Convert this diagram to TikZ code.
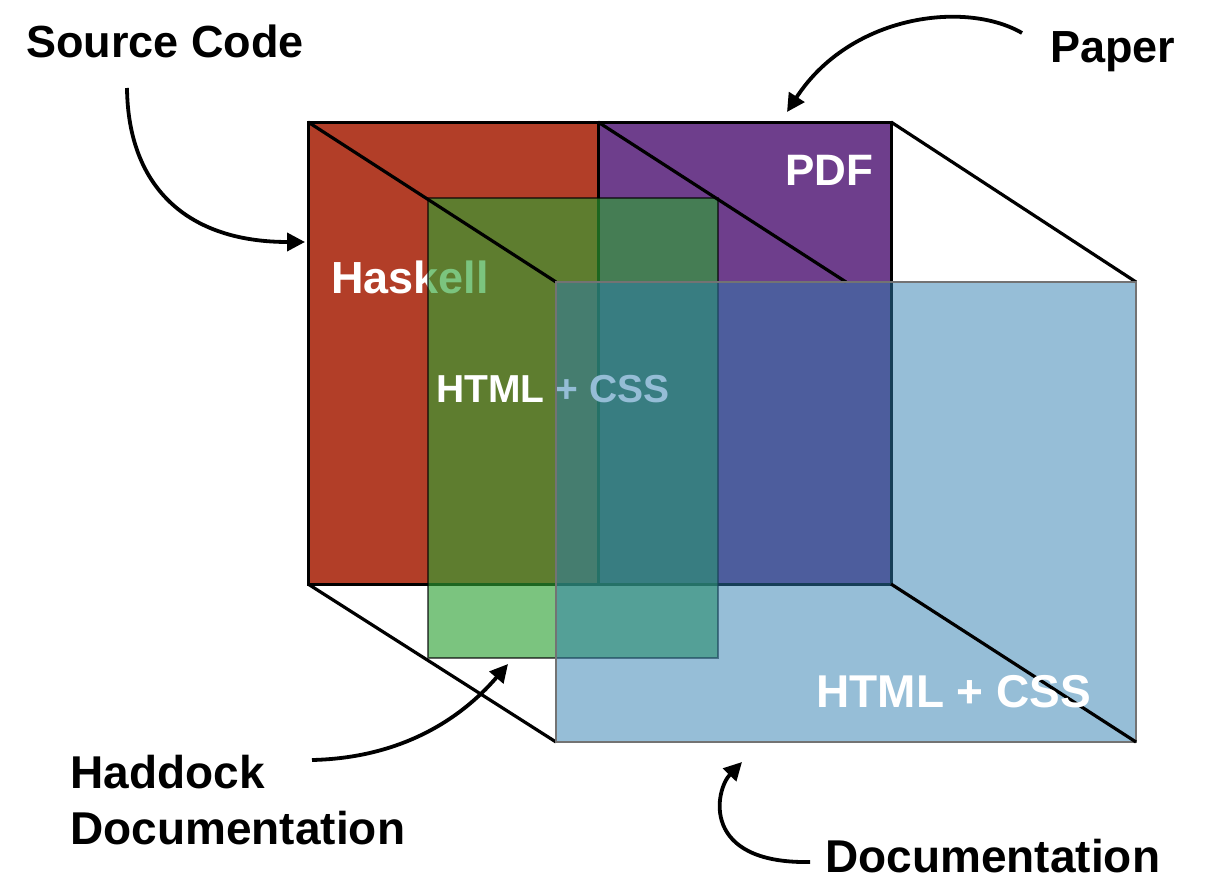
\documentclass[tikz,border=0pt]{standalone}
\usepackage{fontspec}
\setmainfont{Liberation Sans}
\usetikzlibrary{arrows.meta}
\definecolor{redc}{RGB}{178,62,40}
\definecolor{purc}{RGB}{110,62,140}
\definecolor{grnc}{RGB}{46,162,52}
\definecolor{bluc}{RGB}{45,125,175}
\begin{document}
\begin{tikzpicture}[x=0.5pt,y=-0.5pt,
  backface/.style={draw=black,line width=1.5pt},
  cubeedge/.style={draw=black,line width=1.6pt},
  callout/.style={line width=1.9pt,-{Triangle[length=9pt,width=9pt]}},
  lbl/.style={font=\fontsize{22.5}{28}\selectfont\bfseries,inner sep=0pt,anchor=base west},
  inlbl/.style={lbl,text=white}]
\useasboundingbox (0,0) rectangle (1213,883);
% cube corners
\coordinate (BTL) at (308,122);
\coordinate (BTM) at (598,122);
\coordinate (BTR) at (891,122);
\coordinate (BBL) at (308,584);
\coordinate (BBM) at (598,584);
\coordinate (BBR) at (891,584);
\coordinate (FTL) at (556,282);
\coordinate (FTM) at (846,282);
\coordinate (FTR) at (1136,282);
\coordinate (FBL) at (556,742);
\coordinate (FBR) at (1136,742);
\coordinate (GTL) at (428,198);
\coordinate (GBR) at (718,658);
% back faces
\fill[redc] (BTL) rectangle (BBM);
\fill[purc] (BTM) rectangle (BBR);
\draw[backface] (BTL) rectangle (BBM);
\draw[backface] (BTM) rectangle (BBR);
\node[inlbl] (haskell) at (331,293) {Haskell};
\node[inlbl,font=\fontsize{22}{26}\selectfont\bfseries] (pdf) at (785,185) {PDF};
% middle plane
\filldraw[fill=grnc,fill opacity=0.63,draw=black,draw opacity=0.6,line width=1.2pt] (GTL) rectangle (GBR);
\node[inlbl,font=\fontsize{19.5}{24}\selectfont\bfseries] (midhtml) at (436,402) {HTML + CSS};
% depth edges
\draw[cubeedge] (BTL) -- (FTL);
\draw[cubeedge] (BTM) -- (FTM);
\draw[cubeedge] (BTR) -- (FTR);
\draw[cubeedge] (BBL) -- (FBL);
% front plane
\filldraw[fill=bluc,fill opacity=0.5,draw=black!55,line width=1.4pt] (FTL) rectangle (FBR);
\draw[cubeedge] (BBR) -- (FBR);
\node[inlbl,font=\fontsize{23}{28}\selectfont\bfseries] (fronthtml) at (816,707) {HTML + CSS};
% labels
\node[lbl] (src) at (26,58) {Source Code};
\node[lbl] (paper) at (1050,62) {Paper};
\node[lbl,font=\fontsize{23}{28}\selectfont\bfseries] (had1) at (70,788) {Haddock};
\node[lbl,font=\fontsize{23}{28}\selectfont\bfseries] (had2) at (70,844) {Documentation};
\node[lbl,font=\fontsize{23}{28}\selectfont\bfseries] (doc) at (825,872) {Documentation};
% arrow ends
\coordinate (srcA) at (127,88);
\coordinate (srcB) at (305,242);
\coordinate (papA) at (1022,33);
\coordinate (papB) at (787,112);
\coordinate (hadA) at (312,760);
\coordinate (hadB) at (508,664);
\coordinate (docA) at (810,862);
\coordinate (docB) at (742,762);
\draw[callout] (srcA) .. controls (128,185) and (185,242) .. (srcB);
\draw[callout] (papA) .. controls (965,0) and (850,15) .. (papB);
\draw[callout] (hadA) .. controls (400,758) and (460,720) .. (hadB);
\draw[callout] (docA) .. controls (700,864) and (715,790) .. (docB);
\end{tikzpicture}
\end{document}
